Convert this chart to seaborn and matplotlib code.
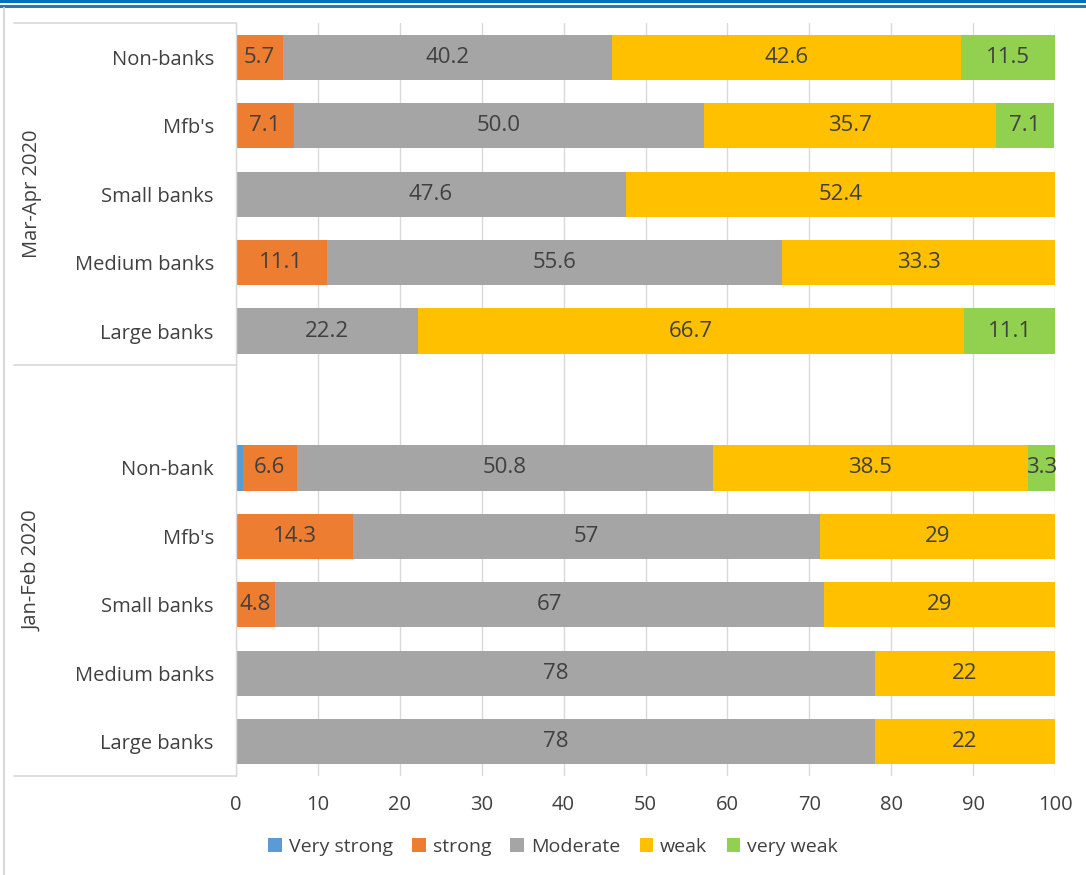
import matplotlib
matplotlib.use("Agg")
import matplotlib.pyplot as plt
from matplotlib.lines import Line2D
from matplotlib.patches import Rectangle
import numpy as np
import pandas as pd
import seaborn as sns

# Sentiment categories and their colours
levels = ["Very strong", "strong", "Moderate", "weak", "very weak"]
colors = ["#5B9BD5", "#ED7D31", "#A5A5A5", "#FFC000", "#92D050"]

# Period groups and institution types (top to bottom)
periods = ["Mar-Apr 2020", "Jan-Feb 2020"]
mar_apr_rows = ["Non-banks", "Mfb's", "Small banks", "Medium banks", "Large banks"]
jan_feb_rows = ["Non-bank", "Mfb's", "Small banks", "Medium banks", "Large banks"]

# Shares (%) per row: Very strong, strong, Moderate, weak, very weak
mar_apr_values = [
    [0.0, 5.7, 40.2, 42.6, 11.5],
    [0.0, 7.1, 50.0, 35.7, 7.1],
    [0.0, 0.0, 47.6, 52.4, 0.0],
    [0.0, 11.1, 55.6, 33.3, 0.0],
    [0.0, 0.0, 22.2, 66.7, 11.1],
]
jan_feb_values = [
    [0.8, 6.6, 50.8, 38.5, 3.3],
    [0.0, 14.3, 57, 29, 0.0],
    [0.0, 4.8, 67, 29, 0.0],
    [0.0, 0.0, 78, 22, 0.0],
    [0.0, 0.0, 78, 22, 0.0],
]
label_formats = {"Mar-Apr 2020": "{:.1f}", "Jan-Feb 2020": "{:g}"}

x_ticks = list(range(0, 101, 10))

# Build the long table; an empty spacer row separates the two periods
records = []
keys, tick_labels = [], []
for period, rows, vals in [("Mar-Apr 2020", mar_apr_rows, mar_apr_values),
                           ("Jan-Feb 2020", jan_feb_rows, jan_feb_values)]:
    if period == "Jan-Feb 2020":
        keys.append("spacer")
        tick_labels.append("")
    for name, v in zip(rows, vals):
        key = f"{period}|{name}"
        keys.append(key)
        tick_labels.append(name)
        cum = np.cumsum(v)
        for lvl, val, c in zip(levels, v, cum):
            records.append({"key": key, "period": period, "level": lvl,
                            "value": val, "cum": c, "start": c - val})
df = pd.DataFrame(records)

sns.set_theme(style="white")
plt.rcParams["font.family"] = ["Open Sans", "DejaVu Sans"]
text_color = "#404040"
grid_color = "#D9D9D9"
fs = 14.5

fig = plt.figure(figsize=(10.86, 8.75), dpi=100)
ax = fig.add_axes([236 / 1086, 1 - 776 / 875, 819 / 1086, 753 / 875])

# Stacked bars: draw cumulative totals from the outermost segment inwards
for lvl, col in reversed(list(zip(levels, colors))):
    sub = df[df["level"] == lvl]
    sns.barplot(data=sub, x="cum", y="key", order=keys, color=col,
                width=0.66, orient="h", ax=ax, saturation=1, errorbar=None,
                linewidth=0)

# Segment value labels
pos = {k: i for i, k in enumerate(keys)}
for _, r in df.iterrows():
    if r["value"] < 2:
        continue
    txt = label_formats[r["period"]].format(r["value"])
    xc = r["start"] + r["value"] / 2
    if r["cum"] > 100:
        xc = r["start"] + (100 - r["start"]) / 2
    ha = "center"
    if r["level"] == "very weak" and r["value"] < 5:
        xc, ha = 100.3, "right"
    ax.text(xc, pos[r["key"]], txt, ha=ha, va="center",
            fontsize=16, color=text_color)

ax.set_xlim(0, 100)
ax.set_ylim(len(keys) - 0.5, -0.5)
ax.set_xticks(x_ticks)
ax.set_xticklabels([str(t) for t in x_ticks], fontsize=fs, color=text_color)
ax.set_yticks(range(len(keys)))
ax.set_yticklabels(tick_labels, fontsize=fs, color=text_color)
ax.tick_params(axis="y", length=0, pad=16)
ax.tick_params(axis="x", length=0, pad=14)
ax.set_xlabel("")
ax.set_ylabel("")
ax.xaxis.grid(True, color=grid_color, linewidth=1)
ax.set_axisbelow(True)
for s in ["top", "right", "bottom"]:
    ax.spines[s].set_visible(False)
ax.spines["left"].set_color(grid_color)
ax.spines["left"].set_linewidth(1)

# Multi-level category axis: group boxes and rotated period names
x_left = (14 - 236) / 819
trans = ax.get_yaxis_transform()
for yb in [-0.5, 4.5, len(keys) - 0.5]:
    ax.add_line(Line2D([x_left, 0], [yb, yb], transform=trans, color=grid_color,
                       linewidth=1.2, clip_on=False))
for period, (y0, y1) in zip(periods, [(-0.5, 4.5), (4.5, len(keys) - 0.5)]):
    ax.text((32 - 236) / 819, (y0 + y1) / 2, period, transform=trans,
            rotation=90, ha="center", va="center", fontsize=fs,
            color=text_color)

# Legend
handles = [Rectangle((0, 0), 1, 1, facecolor=c, edgecolor="none") for c in colors]
fig.legend(handles, levels, loc="center", bbox_to_anchor=(553 / 1086, 1 - 847 / 875),
           ncol=5, frameon=False, fontsize=fs - 0.5, handlelength=0.7,
           handleheight=0.7, handletextpad=0.35, columnspacing=1.0,
           labelcolor=text_color)

# Frame decoration: blue header rules and left border
fig.add_artist(Rectangle((0, 1 - 3 / 875), 1, 3 / 875, transform=fig.transFigure,
                         facecolor="#0070C0", edgecolor="none"))
fig.add_artist(Rectangle((0, 1 - 7.5 / 875), 1, 2.5 / 875, transform=fig.transFigure,
                         facecolor="#2E75B6", edgecolor="none"))
fig.add_artist(Line2D([4 / 1086, 4 / 1086], [0, 1 - 8 / 875], transform=fig.transFigure,
                      color="#D9D9D9", linewidth=1.5))

fig.savefig("out.png", dpi=100)
